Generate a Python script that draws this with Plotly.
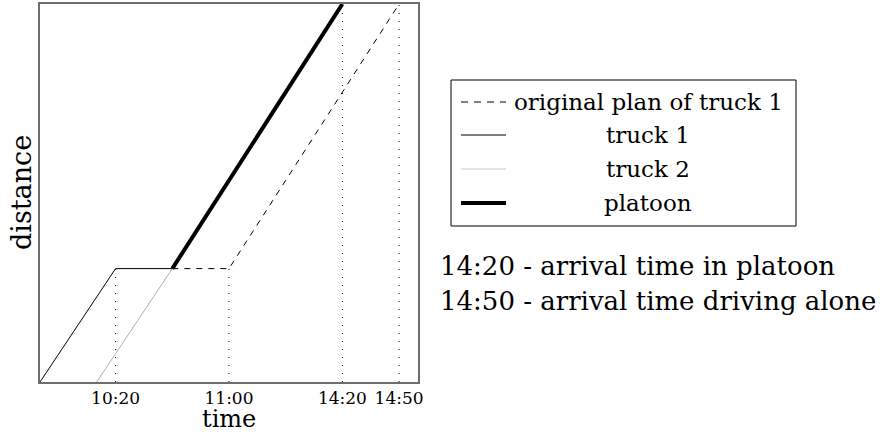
import plotly.graph_objects as go

# ---- data (abstract time units on x, distance units on y) ----
truck1_t = [0, 2, 3.5]
truck1_d = [0, 3, 3]
truck2_t = [1.5, 3.5]
truck2_d = [0, 3]
platoon_t = [3.5, 8]
platoon_d = [3, 10]
plan_t = [3.5, 5, 9.5]
plan_d = [3, 3, 10]
tick_vals = [2, 5, 8, 9.5]
tick_text = ["10:20", "11:00", "14:20", "14:50"]
guide_top = [3, 3, 10, 10]
legend_names = ["original plan of truck 1", "truck 1", "truck 2", "platoon"]
notes = ["14:20 - arrival time in platoon", "14:50 - arrival time driving alone"]

FONT = "DejaVu Serif"

fig = go.Figure()
for xv, top in zip(tick_vals, guide_top):
    fig.add_trace(go.Scatter(x=[xv, xv], y=[0, top], mode="lines",
                             line=dict(color="black", width=1, dash="1px,7px"),
                             showlegend=False, hoverinfo="skip"))
fig.add_trace(go.Scatter(x=plan_t, y=plan_d, mode="lines", name=legend_names[0],
                         line=dict(color="black", width=1, dash="6px,6px"), showlegend=False))
fig.add_trace(go.Scatter(x=truck2_t, y=truck2_d, mode="lines", name=legend_names[2],
                         line=dict(color="#b0b0b0", width=1), showlegend=False))
fig.add_trace(go.Scatter(x=truck1_t, y=truck1_d, mode="lines", name=legend_names[1],
                         line=dict(color="black", width=1), showlegend=False))
fig.add_trace(go.Scatter(x=platoon_t, y=platoon_d, mode="lines", name=legend_names[3],
                         line=dict(color="black", width=4), showlegend=False))

# ---- manual legend (centered text like the reference) ----
L, R, T, B = 451, 796, 80, 226  # pixel box
W, H = 889, 435
ml, mt, pw, ph = 40, 4, 378, 378
def px(x):
    return (x - ml) / pw
def py(y):
    return (mt + ph - y) / ph

shapes = [dict(type="rect", xref="paper", yref="paper", x0=px(L), x1=px(R), y0=py(B), y1=py(T),
               line=dict(color="black", width=1), fillcolor="white", layer="above")]
rows = [102, 135, 169, 203]
styles = [dict(color="black", width=1, dash="7px,6px"), dict(color="black", width=1),
          dict(color="#c8c8c8", width=1), dict(color="black", width=4)]
annotations = []
for ry, st, nm in zip(rows, styles, legend_names):
    shapes.append(dict(type="line", xref="paper", yref="paper", x0=px(461), x1=px(506),
                       y0=py(ry), y1=py(ry), line=st))
    annotations.append(dict(xref="paper", yref="paper", x=px(648), y=py(ry), text=nm,
                            showarrow=False, xanchor="center", yanchor="middle",
                            font=dict(family=FONT, size=23, color="black")))
for ny, txt in zip([266, 301], notes):
    annotations.append(dict(xref="paper", yref="paper", x=px(438), y=py(ny), text=txt,
                            showarrow=False, xanchor="left", yanchor="middle",
                            font=dict(family=FONT, size=26, color="black")))
# axis titles placed precisely
annotations.append(dict(xref="paper", yref="paper", x=px(21), y=py(193), text="distance",
                        textangle=-90, showarrow=False, xanchor="center", yanchor="middle",
                        font=dict(family=FONT, size=27, color="black")))
annotations.append(dict(xref="paper", yref="paper", x=px(229), y=py(435), text="time",
                        showarrow=False, xanchor="center", yanchor="bottom",
                        font=dict(family=FONT, size=24, color="black")))

fig.update_layout(
    width=W, height=H,
    margin=dict(l=ml, r=W - ml - pw, t=mt, b=H - mt - ph),
    plot_bgcolor="white", paper_bgcolor="white",
    shapes=shapes, annotations=annotations,
    xaxis=dict(range=[0, 10], tickvals=tick_vals, ticktext=tick_text, ticks="",
               showgrid=False, zeroline=False, showline=True, mirror=True, automargin=False,
               linecolor="#6e6e6e", linewidth=1.5, ticklabelstandoff=0,
               tickfont=dict(family=FONT, size=17, color="black")),
    yaxis=dict(range=[0, 10], showticklabels=False, ticks="", automargin=False,
               showgrid=False, zeroline=False, showline=True, mirror=True,
               linecolor="#6e6e6e", linewidth=1.5),
)
fig.write_html("out.html", config=dict(displayModeBar=False),
               post_script="document.body.style.margin='0';document.body.style.padding='0';")
